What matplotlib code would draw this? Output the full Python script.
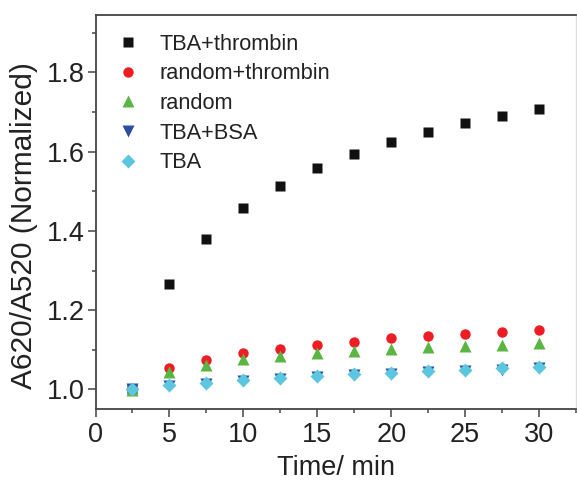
import matplotlib
matplotlib.use("Agg")
import matplotlib.pyplot as plt
from matplotlib.ticker import MultipleLocator

plt.rcParams['font.family'] = ['Liberation Sans', 'DejaVu Sans']

time = [2.5, 5, 7.5, 10, 12.5, 15, 17.5, 20, 22.5, 25, 27.5, 30]
tba_thrombin = [1.000, 1.265, 1.381, 1.457, 1.514, 1.559, 1.594, 1.625, 1.651, 1.672, 1.691, 1.709]
random_thrombin = [1.000, 1.053, 1.074, 1.092, 1.103, 1.113, 1.120, 1.130, 1.135, 1.141, 1.146, 1.151]
random_only = [0.998, 1.044, 1.061, 1.076, 1.084, 1.092, 1.096, 1.102, 1.106, 1.110, 1.113, 1.117]
tba_bsa = [1.000, 1.009, 1.015, 1.021, 1.026, 1.032, 1.036, 1.040, 1.044, 1.047, 1.050, 1.054]
tba_only = [1.002, 1.011, 1.017, 1.023, 1.028, 1.034, 1.039, 1.042, 1.046, 1.049, 1.053, 1.057]

labels = ["TBA+thrombin", "random+thrombin", "random", "TBA+BSA", "TBA"]

fig = plt.figure(figsize=(5.77, 4.82), dpi=100)
ax = fig.add_axes([95.5/577, 1-409.3/482, (576-95.5)/577, (409.3-15)/482])

ax.plot(time, tba_thrombin, 's', color='#111111', ms=6.9, mec='none', label=labels[0])
ax.plot(time, random_thrombin, 'o', color='#ee1d23', ms=7.5, mec='none', label=labels[1])
ax.plot(time, random_only, '^', color='#5bb543', ms=8.7, mec='none', label=labels[2])
ax.plot(time, tba_bsa, 'v', color='#2c4da0', ms=8.7, mec='none', label=labels[3])
ax.plot(time, tba_only, 'D', color='#5cc6e0', ms=6.7, mec='none', label=labels[4])

ax.set_xlim(0, 32.5)
ax.set_ylim(0.95, 1.945)
ax.xaxis.set_major_locator(MultipleLocator(5))
ax.xaxis.set_minor_locator(MultipleLocator(2.5))
ax.yaxis.set_major_locator(MultipleLocator(0.2))
ax.yaxis.set_minor_locator(MultipleLocator(0.1))
ax.tick_params(which='both', direction='out', color='#444444', width=1.1, labelsize=19.5, labelcolor='#222222')
ax.tick_params(axis='y', which='both', pad=2)
ax.tick_params(axis='x', which='both', pad=4)
ax.tick_params(which='major', length=5.5)
ax.tick_params(which='minor', length=3)

for s in ['left', 'bottom', 'top']:
    ax.spines[s].set_color('#444444')
    ax.spines[s].set_linewidth(1.3)
ax.spines['right'].set_color('#dddddd')
ax.spines['right'].set_linewidth(1.0)

ax.set_xlabel("Time/ min", fontsize=19.5, color='#222222', labelpad=5)
ax.set_ylabel("A620/A520 (Normalized)", fontsize=21.5, color='#222222')
ax.yaxis.set_label_coords(-0.12, 0.467)

leg = ax.legend(loc='upper left', frameon=False, fontsize=15.7, numpoints=1,
                handlelength=1.0, handletextpad=0.93, labelspacing=0.4,
                borderaxespad=0.0, bbox_to_anchor=(0.027, 0.975))
for t in leg.get_texts():
    t.set_color('#222222')

fig.savefig("out.png", dpi=100)
